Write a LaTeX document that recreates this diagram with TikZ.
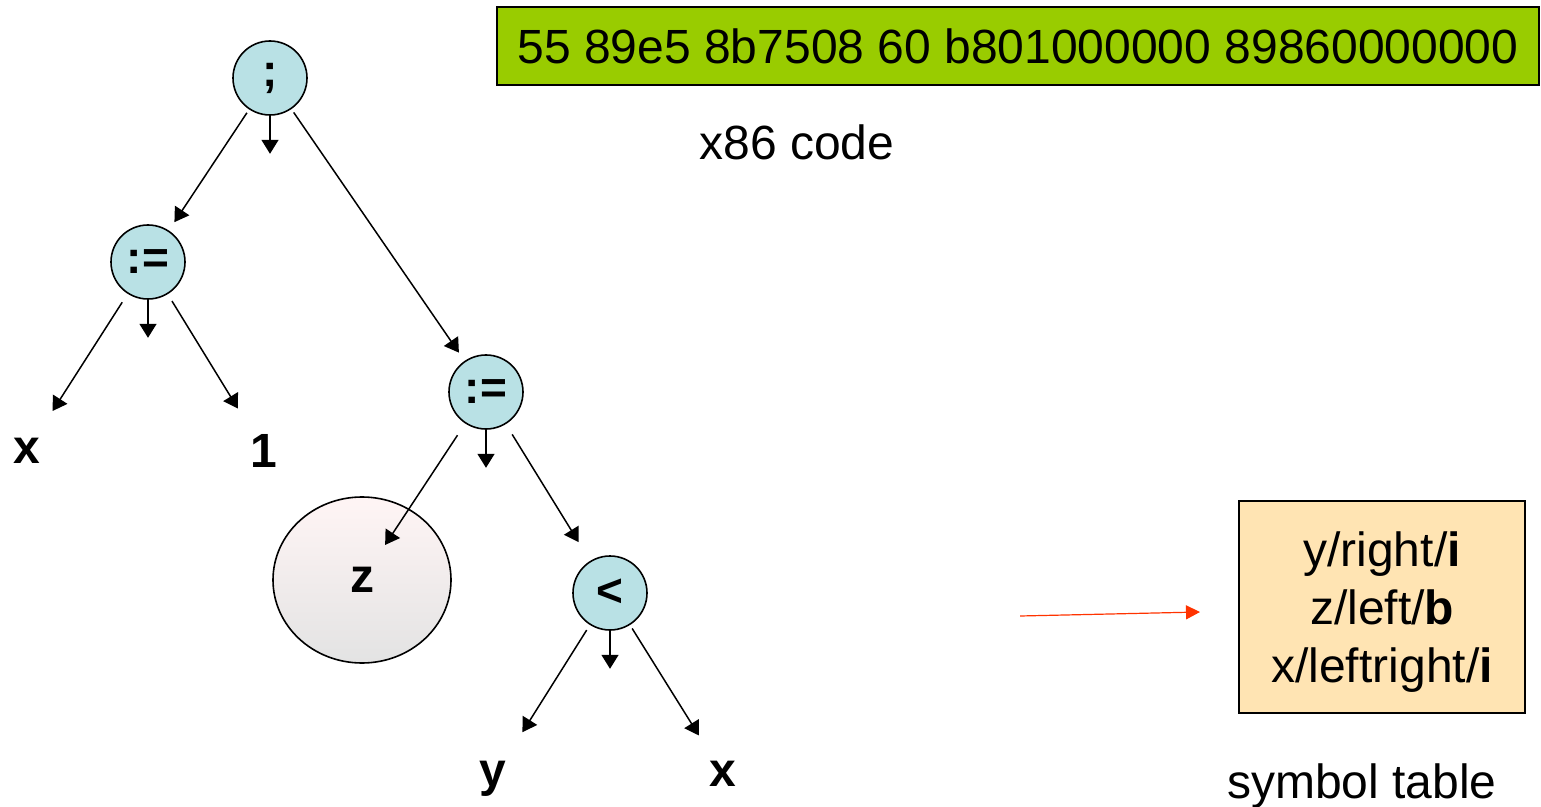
\documentclass[tikz,border=0pt]{standalone}
\usepackage{fontspec}
\setmainfont{Liberation Sans}
\usetikzlibrary{positioning,shapes.geometric,arrows.meta}
\usepackage{xcolor}

\definecolor{nodeblue}{HTML}{B9E1E5}
\definecolor{codegreen}{HTML}{99CC00}
\definecolor{tablefill}{HTML}{FFE4B3}
\definecolor{ptrred}{HTML}{FF3300}

\begin{document}
\begin{tikzpicture}[x=0.5pt, y=-0.5pt,
	opnode/.style={draw=black, line width=0.8pt, circle, fill=nodeblue, minimum size=37pt, inner sep=0pt, font=\fontsize{23}{26}\selectfont\bfseries},
	leaf/.style={inner sep=0pt, font=\fontsize{24}{28}\selectfont\bfseries},
	link/.style={line width=0.75pt, -{Triangle[length=7pt,width=8.5pt]}},
	plaintext/.style={font=\fontsize{24}{29}\selectfont}]

\def\down{19pt}

\useasboundingbox (0,0) rectangle (1541,807); % full picture

% tree
\node[opnode] (semi) at (270,78) {;};
\node[opnode] (asgL) at (148,262) {:=};
\node[opnode] (asgR) at (486,392) {:=};
\node[opnode] (lt) at (610,593) {<};
\node[ellipse, draw=black, line width=0.8pt, top color=red!4, bottom color=black!11, minimum width=89pt, minimum height=83pt, font=\fontsize{24}{28}\selectfont\bfseries] (zz) at (362,580) {z};

\node[leaf] (xL) at (27,451) {x};
\node[leaf] (one) at (264,451) {1};
\node[leaf] (yL) at (493,779) {y};
\node[leaf] (xR) at (723,774) {x};

% free ends of the middle arrows
\coordinate[below=\down of semi.south] (semiD);
\coordinate[below=\down of asgL.south] (asgLD);
\coordinate[below=\down of asgR.south] (asgRD);
\coordinate[below=\down of lt.south] (ltD);

\draw[link, shorten <=2pt, shorten >=5pt] (semi) -- (asgL);
\draw[link] (semi.south) -- (semiD);
\draw[link, shorten <=2pt, shorten >=5pt] (semi) -- (asgR);

\draw[link, shorten <=5pt, shorten >=16pt] (asgL) -- (xL);
\draw[link, shorten <=4pt, shorten >=15pt] (asgL) -- (one);
\draw[link] (asgL.south) -- (asgLD);

\draw[link, shorten <=7pt, shorten >=21pt] (asgR) -- (zz.center);
\draw[link] (asgR.south) -- (asgRD);
\draw[link, shorten <=6pt, shorten >=11pt] (asgR) -- (lt);

\draw[link, shorten <=3pt, shorten >=17pt] (lt) -- (yL);
\draw[link] (lt.south) -- (ltD);
\draw[link, shorten <=2pt, shorten >=15pt] (lt) -- (xR);

% code and symbol table
\node[plaintext, draw=black, line width=0.8pt, fill=codegreen, minimum width=521pt, minimum height=39pt, inner sep=0pt] (code) at (1018,46) {55 89e5 8b7508 60 b801000000 89860000000};
\node[plaintext] (codelbl) at (797,142) {x86 code};

\node[plaintext, draw=black, line width=0.8pt, fill=tablefill, minimum width=143pt, minimum height=106pt, align=center] (symtab) at (1382,607) {\rule{0pt}{22.5pt}y/right/\textbf{i}\\z/left/\textbf{b}\\x/leftright/\textbf{i}};
\node[plaintext] (symlbl) at (1362,786) {symbol table};

\coordinate (ptrS) at (1020,616);
\coordinate (ptrE) at (1200,612);
\draw[ptrred, line width=0.6pt, -{Triangle[length=7pt,width=7pt]}] (ptrS) -- (ptrE);

\end{tikzpicture}
\end{document}
